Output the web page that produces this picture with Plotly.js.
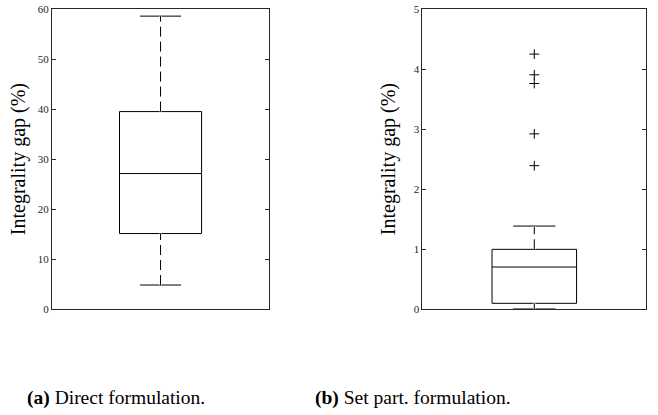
<!DOCTYPE html>
<html>
<head>
<meta charset="utf-8">
<script src="https://cdn.plot.ly/plotly-3.0.1.min.js"></script>
<style>html,body{margin:0;padding:0;background:#fff;}#chart{width:658px;height:415px;}</style>
</head>
<body>
<div id="chart"></div>
<script>
// Panel (a): Direct formulation
const directStats = {q1: [15.1], median: [27.1], q3: [39.5], lowerfence: [4.8], upperfence: [58.6]};
const directOutliers = [];
// Panel (b): Set partitioning formulation
const setpartStats = {q1: [0.095], median: [0.70], q3: [0.995], lowerfence: [0.0], upperfence: [1.383]};
const setpartOutliers = [2.39, 2.92, 3.76, 3.905, 4.25];
const captions = ["<b>(a)</b> Direct formulation.", "<b>(b)</b> Set part. formulation."];
const yTitle = "Integrality gap (%)";

const ink = "#262626";
const serif = "Liberation Serif";
const pos = 1;

function boxTrace(s, xa, ya) {
  return {
    type: "box", x: [pos], q1: s.q1, median: s.median, q3: s.q3,
    lowerfence: s.lowerfence, upperfence: s.upperfence,
    width: 0.378, whiskerwidth: 0.5, boxpoints: false,
    fillcolor: "rgba(0,0,0,0)", line: {color: "#000", width: 1},
    xaxis: xa, yaxis: ya, hoverinfo: "skip", showlegend: false
  };
}
function whiskerTraces(s, xa, ya) {
  const segs = [[s.q3[0], s.upperfence[0]], [s.lowerfence[0], s.q1[0]]];
  const out = [];
  segs.forEach(([a, b]) => {
    if (b - a <= 0) return;
    out.push({type: "scatter", mode: "lines", x: [pos, pos], y: [a, b], xaxis: xa, yaxis: ya,
      line: {color: "#fff", width: 2.5}, hoverinfo: "skip", showlegend: false});
    out.push({type: "scatter", mode: "lines", x: [pos, pos], y: [a, b], xaxis: xa, yaxis: ya,
      line: {color: "#000", width: 1, dash: "10px,5px"}, hoverinfo: "skip", showlegend: false});
  });
  return out;
}
function outlierTrace(vals, xa, ya) {
  return {type: "scatter", mode: "markers", x: vals.map(() => pos), y: vals, xaxis: xa, yaxis: ya,
    marker: {symbol: "cross-thin-open", size: 7, color: "#000", line: {color: "#000", width: 1}},
    hoverinfo: "skip", showlegend: false};
}

const data = [
  boxTrace(directStats, "x", "y"), ...whiskerTraces(directStats, "x", "y"), outlierTrace(directOutliers, "x", "y"),
  boxTrace(setpartStats, "x2", "y2"), ...whiskerTraces(setpartStats, "x2", "y2"), outlierTrace(setpartOutliers, "x2", "y2")
];

function xax(dom, anchor) {
  return {domain: dom, anchor: anchor, range: [0.5, 1.5], showticklabels: false, ticks: "",
    showgrid: false, zeroline: false, showline: true, linecolor: ink, linewidth: 1, mirror: true, fixedrange: true};
}
function yax(dom, anchor, range, dtick, standoff) {
  return {domain: dom, anchor: anchor, range: range, dtick: dtick, tick0: 0,
    ticks: "inside", ticklen: 4, tickcolor: ink, tickwidth: 1,
    showgrid: false, zeroline: false, showline: true, linecolor: ink, linewidth: 1, mirror: "ticks",
    tickfont: {family: serif, size: 11, color: ink},
    title: {text: yTitle, font: {family: serif, size: 20, color: "#000"}, standoff: standoff},
    automargin: false, fixedrange: true};
}

const layout = {
  width: 658, height: 415, margin: {l: 0, r: 0, t: 0, b: 0},
  font: {family: serif, color: "#000"},
  paper_bgcolor: "#fff", plot_bgcolor: "#fff", showlegend: false,
  xaxis: xax([0.079, 0.409], "y"),
  yaxis: yax([0.2554, 0.978], "x", [0, 60], 10, 6),
  xaxis2: xax([0.642, 0.982], "y2"),
  yaxis2: yax([0.2554, 0.978], "x2", [0, 5], 1, 12),
  annotations: [
    {text: captions[0], xref: "paper", yref: "paper", x: 25/658, y: (415-398)/415, xanchor: "left", yanchor: "middle",
      showarrow: false, font: {family: serif, size: 19.5, color: "#000"}},
    {text: captions[1], xref: "paper", yref: "paper", x: 313/658, y: (415-398)/415, xanchor: "left", yanchor: "middle",
      showarrow: false, font: {family: serif, size: 19.5, color: "#000"}}
  ]
};

Plotly.newPlot("chart", data, layout, {staticPlot: true, displayModeBar: false});
</script>
</body>
</html>
